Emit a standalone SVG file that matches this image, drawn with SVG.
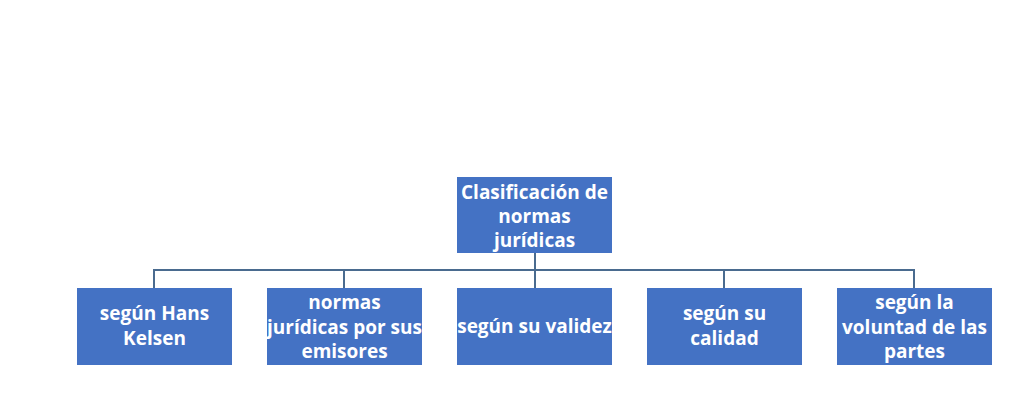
<svg xmlns="http://www.w3.org/2000/svg" width="1024" height="418" viewBox="0 0 1024 418">
<style>
.box{fill:#4472C4;}
.t{font-family:"Open Sans","Liberation Sans",sans-serif;font-weight:bold;font-size:19px;fill:#ffffff;text-anchor:middle;}
.c{stroke:#4A6B8F;stroke-width:2;fill:none;}
</style>
<rect width="1024" height="418" fill="#ffffff"/>
<g id="connectors">
<path class="c" d="M535 252V288M154 288V270H914V288M344 270V288M724 270V288"/>
</g>
<g id="root">
<rect class="box" x="457" y="177" width="155" height="76"/>
<text class="t" x="534.5" y="199">Clasificación de</text>
<text class="t" x="534.5" y="223">normas</text>
<text class="t" x="534.5" y="247">jurídicas</text>
</g>
<g id="n1">
<rect class="box" x="77" y="288" width="155" height="77"/>
<text class="t" x="154.5" y="320">según Hans</text>
<text class="t" x="154.5" y="345">Kelsen</text>
</g>
<g id="n2">
<rect class="box" x="267" y="288" width="155" height="77"/>
<text class="t" x="344.5" y="309">normas</text>
<text class="t" x="344.5" y="334">jurídicas por sus</text>
<text class="t" x="344.5" y="358">emisores</text>
</g>
<g id="n3">
<rect class="box" x="457" y="288" width="155" height="77"/>
<text class="t" x="534.5" y="333">según su validez</text>
</g>
<g id="n4">
<rect class="box" x="647" y="288" width="155" height="77"/>
<text class="t" x="724.5" y="320">según su</text>
<text class="t" x="724.5" y="345">calidad</text>
</g>
<g id="n5">
<rect class="box" x="837" y="288" width="155" height="77"/>
<text class="t" x="914.5" y="309">según la</text>
<text class="t" x="914.5" y="334">voluntad de las</text>
<text class="t" x="914.5" y="358">partes</text>
</g>
</svg>
